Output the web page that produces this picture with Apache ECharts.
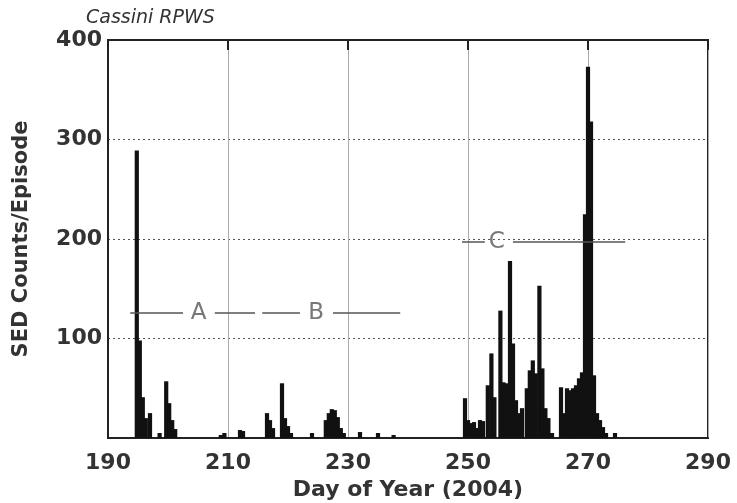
<!DOCTYPE html>
<html><head><meta charset="utf-8">
<script src="https://cdn.jsdelivr.net/npm/echarts@6/dist/echarts.min.js"></script>
<style>html,body{margin:0;padding:0;background:#fff}#c{width:737px;height:503px}</style>
</head><body><div id="c"></div>
<script>
// Episode day-of-year positions and SED counts per episode
var days = [194.8,195.3,195.8,196.3,197.0,198.6,199.7,200.2,200.7,201.2,
  208.8,209.4,212.0,212.5,216.5,217.0,217.5,219.0,219.5,220.0,220.5,224.0,
  226.3,226.8,227.3,227.8,228.3,228.8,229.3,232.0,235.0,237.6,
  249.5,250.0,250.5,251.0,251.5,252.0,252.5,253.3,253.9,254.4,255.4,255.9,256.4,257.0,257.5,258.0,258.5,259.0,
  259.8,260.3,260.8,261.3,261.9,262.4,262.9,263.4,264.0,
  265.5,266.0,266.5,267.0,267.5,268.0,268.5,269.0,269.5,270.0,270.5,271.0,271.5,272.0,272.5,273.0,274.5];
var counts = [289,98,41,20,25,5,57,35,18,9,
  3,5,8,7,25,18,10,55,20,12,5,5,
  18,25,29,28,21,10,5,6,5,3,
  40,18,15,16,10,18,17,53,85,41,128,56,55,178,95,38,25,30,
  50,68,78,65,153,70,30,20,5,
  51,25,50,48,50,53,60,66,225,373,318,63,25,18,11,5,5];
var xTicks = [190,210,230,250,270,290];
var yTicks = [100,200,300,400];
// Annotation bracket segments [x1, x2, y]
var annotSegments = [[193.7,202.5,126],[207.8,214.5,126],[215.7,222,126],[227.5,238.7,126],[249,252.8,197],[257.5,276.2,197]];
var annotLetters = ['A','B','C'];
var annotX = [205.1,224.7,254.8];
var annotY = [126,126,197];

var FONT = 'DejaVu Sans';
var chart = echarts.init(document.getElementById('c'));
chart.setOption({
  animation:false,
  backgroundColor:'#fff',
  title:{text:'Cassini RPWS',left:81,top:4,textStyle:{fontFamily:FONT,fontSize:19,fontWeight:'normal',fontStyle:'italic',color:'#333'}},
  grid:{left:108,right:29,top:40,bottom:65,containLabel:false,outerBoundsMode:'none',show:true,borderColor:'#222',borderWidth:2},
  xAxis:[{type:'value',min:190,max:290,interval:20,
    name:'Day of Year (2004)',nameLocation:'middle',nameGap:38,
    nameTextStyle:{fontFamily:FONT,fontSize:22,fontWeight:'bold',color:'#333'},
    axisLine:{show:true,lineStyle:{color:'#222',width:2}},
    axisTick:{show:false},
    axisLabel:{fontFamily:FONT,fontSize:22,fontWeight:'bold',color:'#333',margin:14},
    splitLine:{show:true,lineStyle:{color:'#aaa',width:1}}},
   {type:'value',min:190,max:290,interval:20,position:'top',
    axisLine:{show:true,lineStyle:{color:'#222',width:2}},
    axisTick:{show:true,inside:true,length:10,lineStyle:{color:'#222',width:2}},
    axisLabel:{show:false},splitLine:{show:false}}],
  yAxis:{type:'value',min:0,max:400,interval:100,
    name:'SED Counts/Episode',nameLocation:'middle',nameGap:76,
    nameTextStyle:{fontFamily:FONT,fontSize:21,fontWeight:'bold',color:'#333'},
    axisLine:{show:true,lineStyle:{color:'#222',width:2}},
    axisTick:{show:false},
    axisLabel:{fontFamily:FONT,fontSize:22,fontWeight:'bold',color:'#333',margin:6,
      formatter:function(v){return yTicks.indexOf(v)>=0?String(v):'';}},
    splitLine:{show:true,lineStyle:{color:'#555',width:1,type:[2,3]}}},
  series:[
    {type:'bar',barWidth:4.2,data:days.map(function(d,i){return [d,counts[i]];}),
     itemStyle:{color:'#111'},silent:true,
     markLine:{silent:true,symbol:'none',label:{show:false},
       lineStyle:{color:'#555',width:1.5,type:'solid'},
       data:annotSegments.map(function(s){return [{coord:[s[0],s[2]]},{coord:[s[1],s[2]]}];})}},
    {type:'scatter',symbolSize:0,silent:true,
     data:annotLetters.map(function(t,i){return {value:[annotX[i],annotY[i]],name:t};}),
     label:{show:true,position:'inside',formatter:'{b}',fontFamily:FONT,fontSize:23,color:'#555'}}
  ]
});
</script></body></html>
